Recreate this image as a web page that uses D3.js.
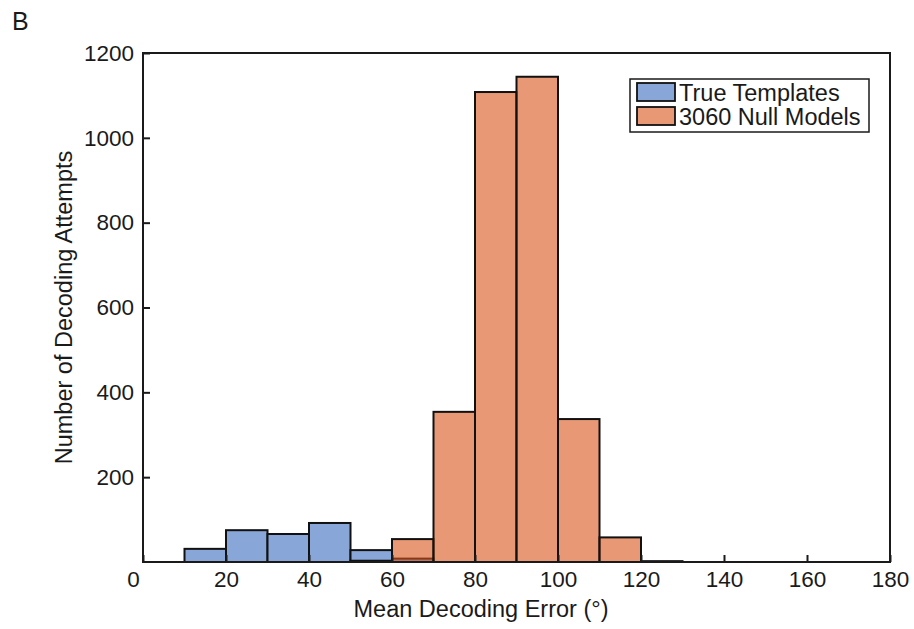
<!DOCTYPE html>
<html>
<head>
<meta charset="utf-8">
<script src="https://cdn.jsdelivr.net/npm/d3@7/dist/d3.min.js"></script>
<style>
  body { margin: 0; background: #fff; }
  text { font-family: "Liberation Sans", Arial, sans-serif; fill: #1a1a1a; }
</style>
</head>
<body>
<svg id="chart" width="914" height="629"></svg>
<script>
// Histogram bin edges (degrees) and counts per bin
const binEdges = [0, 10, 20, 30, 40, 50, 60, 70, 80, 90, 100, 110, 120, 130, 140, 150, 160, 170, 180];
const trueCounts = [0, 31, 75, 66, 92, 28, 8, 0, 0, 0, 0, 0, 0, 0, 0, 0, 0, 0];
const nullCounts = [0, 0, 0, 0, 0, 3, 54, 354, 1108, 1144, 337, 58, 2, 0, 0, 0, 0, 0];
const xTicks = [0, 20, 40, 60, 80, 100, 120, 140, 160, 180];
const yTicks = [200, 400, 600, 800, 1000, 1200];
const seriesNames = ["True Templates", "3060 Null Models"];

const svg = d3.select("#chart");
const plotL = 143, plotR = 890, plotT = 53, plotB = 562;
const fs = "22.5px";

const x = d3.scaleLinear().domain([0, 180]).range([plotL, plotR]);
const y = d3.scaleLinear().domain([0, 1200]).range([plotB, plotT]);

function bins(counts) {
  return counts.map((c, i) => ({ x0: binEdges[i], x1: binEdges[i + 1], c }));
}

const g = svg.append("g");

// True templates (blue)
g.selectAll("rect.t").data(bins(trueCounts).filter(d => d.c > 0)).join("rect")
  .attr("class", "t")
  .attr("x", d => x(d.x0)).attr("width", d => x(d.x1) - x(d.x0))
  .attr("y", d => y(d.c)).attr("height", d => y(0) - y(d.c))
  .attr("fill", "#88a6d8").attr("stroke", "#111").attr("stroke-width", 2);

// Null models (orange, semi-transparent face)
g.selectAll("rect.n").data(bins(nullCounts).filter(d => d.c > 0)).join("rect")
  .attr("class", "n")
  .attr("x", d => x(d.x0)).attr("width", d => x(d.x1) - x(d.x0))
  .attr("y", d => y(d.c)).attr("height", d => y(0) - y(d.c))
  .attr("fill", "#d95319").attr("fill-opacity", 0.6)
  .attr("stroke", "#111").attr("stroke-width", 2);

// Axes with inward ticks
const xAxis = d3.axisBottom(x).tickValues(xTicks).tickFormat(d3.format("d"))
  .tickSizeInner(-7).tickSizeOuter(0).tickPadding(9);
const yAxis = d3.axisLeft(y).tickValues(yTicks).tickFormat(d3.format("d"))
  .tickSizeInner(-7).tickSizeOuter(0).tickPadding(9);

const gx = svg.append("g").attr("transform", `translate(0,${plotB})`).call(xAxis);
const gy = svg.append("g").attr("transform", `translate(${plotL},0)`).call(yAxis);
[gx, gy].forEach(a => {
  a.select(".domain").remove();
  a.selectAll(".tick line").attr("stroke", "#1a1a1a").attr("stroke-width", 2);
  a.selectAll(".tick text").style("font-size", fs).style("font-family", "Liberation Sans, Arial, sans-serif").attr("fill", "#1a1a1a");
});
// The origin label sits slightly left of the corner
gx.selectAll(".tick text").filter(d => d === 0).attr("dx", -10);

// Box around the plot area
svg.append("rect").attr("x", plotL).attr("y", plotT)
  .attr("width", plotR - plotL).attr("height", plotB - plotT)
  .attr("fill", "none").attr("stroke", "#1a1a1a").attr("stroke-width", 2);

// Axis titles
svg.append("text").attr("x", 481).attr("y", 617)
  .attr("text-anchor", "middle").style("font-size", "23.5px").text("Mean Decoding Error (°)");
svg.append("text").attr("transform", `translate(72,${(plotT + plotB) / 2}) rotate(-90)`)
  .attr("text-anchor", "middle").style("font-size", "23.5px").text("Number of Decoding Attempts");

// Panel letter
svg.append("text").attr("x", 12).attr("y", 30).style("font-size", "25px").text("B");

// Legend
const lg = svg.append("g").attr("transform", "translate(630,79)");
lg.append("rect").attr("width", 239).attr("height", 53)
  .attr("fill", "#fff").attr("stroke", "#1a1a1a").attr("stroke-width", 1.5);
const swatch = [{ fill: "#88a6d8", op: 1 }, { fill: "#d95319", op: 0.6 }];
seriesNames.forEach((name, i) => {
  const row = lg.append("g").attr("transform", `translate(0,${4 + i * 24})`);
  row.append("rect").attr("x", 7).attr("y", 0).attr("width", 38).attr("height", 18)
    .attr("fill", swatch[i].fill).attr("fill-opacity", swatch[i].op)
    .attr("stroke", "#111").attr("stroke-width", 1.8);
  row.append("text").attr("x", 49).attr("y", 18).style("font-size", "23.5px").text(name);
});
</script>
</body>
</html>
